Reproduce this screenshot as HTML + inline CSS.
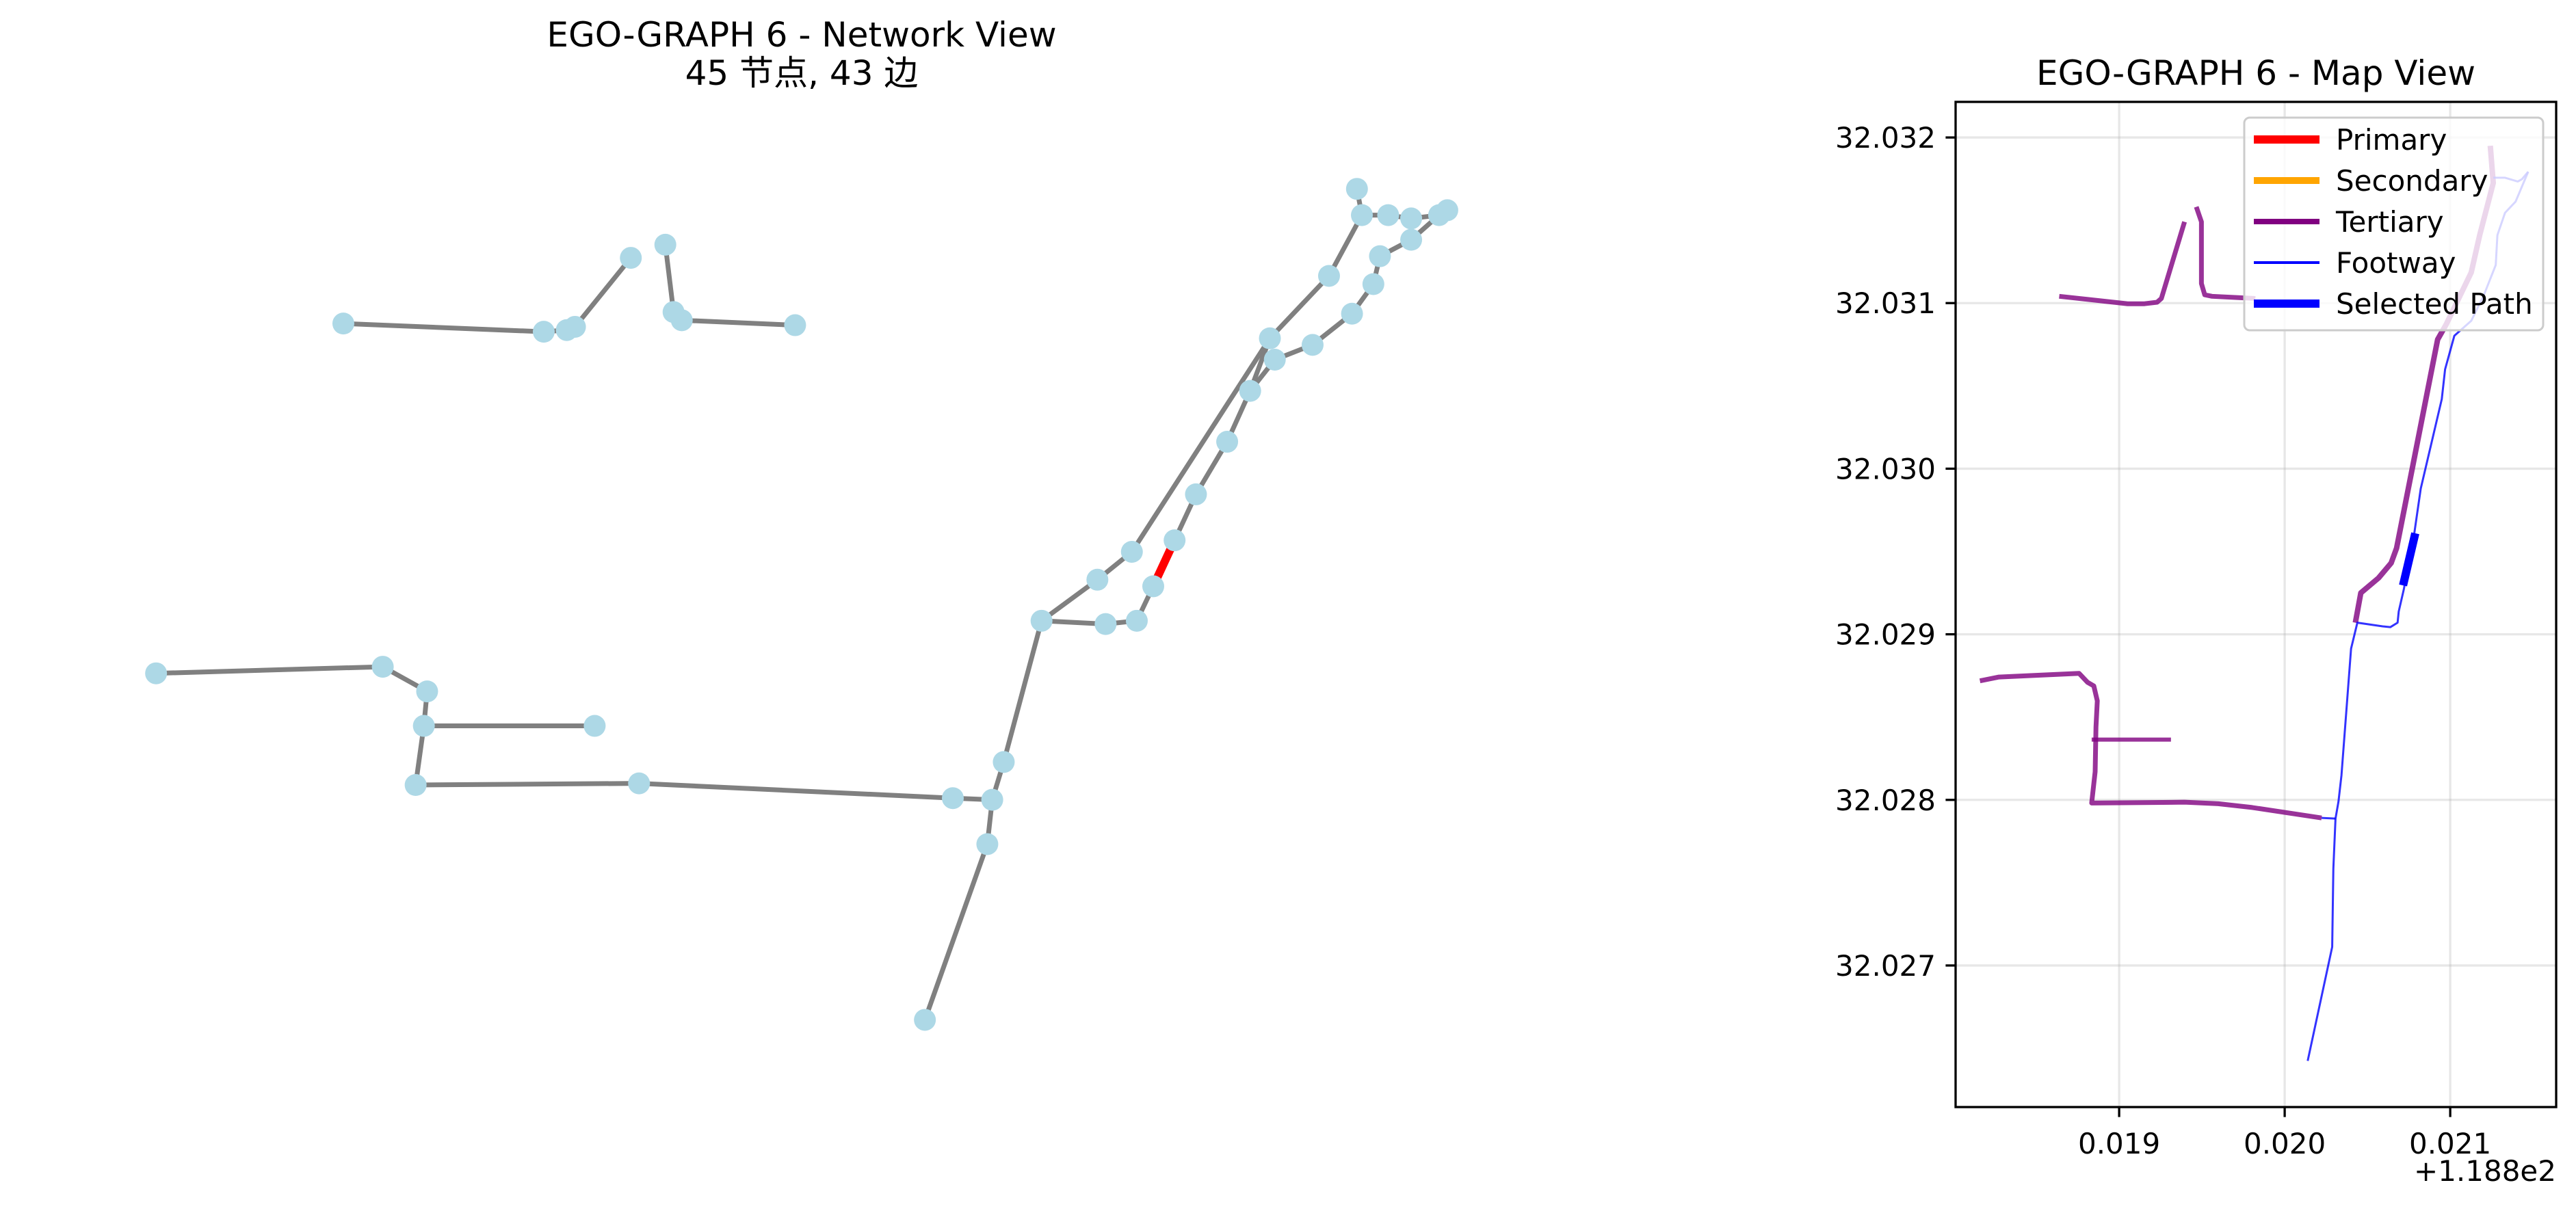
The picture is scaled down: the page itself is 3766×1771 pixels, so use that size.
<!DOCTYPE html>
<html><head><meta charset="utf-8">
<style>
html,body{margin:0;padding:0;background:#fff;}
svg{display:block;font-family:"DejaVu Sans","Liberation Sans","Noto Sans CJK SC",sans-serif;}
</style></head>
<body>
<svg id="fig" width="3766" height="1771" viewBox="0 0 3766 1771" xmlns="http://www.w3.org/2000/svg">
<rect width="3766" height="1771" fill="#fff"/>
<text x="1172" y="68" font-size="50" text-anchor="middle">EGO-GRAPH 6 - Network View</text>
<text x="1172" y="124" font-size="50" text-anchor="middle" font-family="'DejaVu Sans','Noto Sans CJK SC',sans-serif">45 节点, 43 边</text>
<g id="net"></g>
<text x="3298" y="124" font-size="50" text-anchor="middle">EGO-GRAPH 6 - Map View</text>
<g id="map"></g>
</svg>
<script>
const NS='http://www.w3.org/2000/svg';
function mk(tag,attrs,parent){const e=document.createElementNS(NS,tag);for(const k in attrs)e.setAttribute(k,attrs[k]);parent.appendChild(e);return e;}

// ---------- Network view data (layout coordinates) ----------
const nodeIds=['n1','n2','n3','n4','n5','n6','n7','n8','n9','m1','m2','m3','m4','m5','m6','m7','c1','c2','c3','c4','c5','c6','c7','c8','c9','c10','c11','c12','c13','c14','c15','c16','c17','c18','c19','c20','c21','c22','c23','c24','c25','c26','c27','c28','c29'];
const nodeX=[209,331,345,350,384,405,410,415,484,95,233,260,258,362,253,389,580,604,611,601,563,634,668,689,673,692,702,715,728,747,761,776,799,823,836,840,859,876,773,809,829,826,845,859,881];
const nodeY=[197,202,201,199,157,149,190,195,198,410,406,421,442,442,478,477,486,487,464,514,621,378,353,336,380,378,357,329,301,269,238,219,210,191,173,156,146,131,206,168,131,115,131,133,128];
const edgeFrom=['n1','n2','n3','n4','n6','n7','n8','m1','m2','m3','m4','m4','m6','m7','c1','c2','c2','c4','c3','c6','c7','c6','c9','c10','c11','c12','c13','c14','c15','c16','c17','c18','c19','c20','c21','c8','c15','c23','c24','c25','c25','c27','c28','c22'];
const edgeTo=  ['n2','n3','n4','n5','n7','n8','n9','m2','m3','m4','m5','m6','m7','c1','c2','c3','c4','c5','c6','c7','c8','c9','c10','c11','c12','c13','c14','c15','c16','c17','c18','c19','c20','c21','c22','c23','c23','c24','c25','c26','c27','c28','c22','c29'];
const selectedEdge=['c11','c12'];

const NSCALE=2.4017;
const nx=v=>v*NSCALE, ny=v=>v*NSCALE;
const net=document.getElementById('net');
function idx(id){return nodeIds.indexOf(id);}
for(let i=0;i<edgeFrom.length;i++){
  const a=idx(edgeFrom[i]),b=idx(edgeTo[i]);
  const sel=(edgeFrom[i]===selectedEdge[0]&&edgeTo[i]===selectedEdge[1]);
  const l=mk('line',{x1:nx(nodeX[a]),y1:ny(nodeY[a]),x2:nx(nodeX[b]),y2:ny(nodeY[b]),stroke:sel?'#ff0000':'#808080','stroke-width':sel?12:7},net);
  
  
}
for(let i=0;i<nodeIds.length;i++){
  const c=mk('circle',{cx:nx(nodeX[i]),cy:ny(nodeY[i]),r:16,fill:'#add8e6'},net);
  
  
}

// ---------- Map view data ----------
const xTicks=[118.819,118.820,118.821];
const xTickLabels=['0.019','0.020','0.021'];
const yTicks=[32.027,32.028,32.029,32.030,32.031,32.032];
const yTickLabels=['32.027','32.028','32.029','32.030','32.031','32.032'];
const offsetLabel='+1.188e2';

const tert1Lon=[118.818638,118.819051,118.819153,118.819229,118.819255,118.819395];
const tert1Lat=[32.031041,32.030996,32.030996,32.031005,32.031028,32.031491];
const tert2Lon=[118.819466,118.819497,118.819497,118.819517,118.819561,118.819823];
const tert2Lat=[32.031581,32.031491,32.031118,32.031050,32.031041,32.031028];
const tert3Lon=[118.820427,118.820460,118.820567,118.820643,118.820676,118.820924,118.820975,118.821127,118.821178,118.821260,118.821242];
const tert3Lat=[32.029070,32.029250,32.029340,32.029430,32.029520,32.030780,32.030870,32.031185,32.031410,32.031725,32.031950];
const tert4Lon=[118.818159,118.818274,118.818758,118.818809,118.818847,118.818868,118.818860,118.818855,118.818834,118.819395,118.819599,118.819803,118.820223];
const tert4Lat=[32.028719,32.028742,32.028764,32.028710,32.028688,32.028598,32.028440,32.028170,32.027981,32.027986,32.027977,32.027954,32.027891];
const tert5Lon=[118.818834,118.819313];
const tert5Lat=[32.028364,32.028364];
const foot1Lon=[118.820139,118.820287,118.820294,118.820307,118.820325,118.820343,118.820401,118.820439,118.820592,118.820638,118.820682,118.820689,118.820720,118.820783,118.820822,118.820949,118.820969,118.821025,118.821127,118.821204,118.821275,118.821285,118.821331,118.821395,118.821433,118.821471];
const foot1Lat=[32.026424,32.027112,32.027585,32.027887,32.027990,32.028148,32.028913,32.029070,32.029048,32.029043,32.029070,32.029138,32.029273,32.029610,32.029880,32.030420,32.030600,32.030803,32.030893,32.031050,32.031230,32.031410,32.031545,32.031613,32.031703,32.031793];
const foot2Lon=[118.821260,118.821331,118.821408,118.821433,118.821471];
const foot2Lat=[32.031757,32.031757,32.031734,32.031748,32.031793];
const foot3Lon=[118.820223,118.820307];
const foot3Lat=[32.027891,32.027887];
const selLon=[118.820715,118.820789];
const selLat=[32.029295,32.029610];

const legendLabels=['Primary','Secondary','Tertiary','Footway','Selected Path'];
const legendColors=['#ff0000','#ffa500','#800080','#0000ff','#0000ff'];
const legendWidths=[12,10,8,4,12];

// axes frame
const AX0=2859,AX1=3737,AY0=149,AY1=1619;
const XMIN=118.818012,XMAX=118.821640,YMIN=32.026145,YMAX=32.032215;
const mx=v=>AX0+(v-XMIN)/(XMAX-XMIN)*(AX1-AX0);
const my=v=>AY1-(v-YMIN)/(YMAX-YMIN)*(AY1-AY0);
const map=document.getElementById('map');

xTicks.forEach((t,i)=>{
  const g=mk('line',{x1:mx(t),y1:AY0,x2:mx(t),y2:AY1,stroke:'#b0b0b0','stroke-opacity':0.3,'stroke-width':3.3},map);
  
  
  const tk=mk('line',{x1:mx(t),y1:AY1,x2:mx(t),y2:AY1+14.6,stroke:'#000','stroke-width':3.3},map);
  
  
  const tx=mk('text',{x:mx(t),y:AY1+68,'font-size':42,'text-anchor':'middle'},map);
  tx.textContent=xTickLabels[i];
  
  
});
yTicks.forEach((t,i)=>{
  const g=mk('line',{x1:AX0,y1:my(t),x2:AX1,y2:my(t),stroke:'#b0b0b0','stroke-opacity':0.3,'stroke-width':3.3},map);
  
  
  const tk=mk('line',{x1:AX0-14.6,y1:my(t),x2:AX0,y2:my(t),stroke:'#000','stroke-width':3.3},map);
  
  
  const tx=mk('text',{x:AX0-29,y:my(t)+15,'font-size':42,'text-anchor':'end'},map);
  tx.textContent=yTickLabels[i];
  
  
});
const off=mk('text',{x:AX1,y:1727,'font-size':42,'text-anchor':'end'},map);
off.textContent=offsetLabel;



function poly(lons,lats,color,w,op,name){
  const pts=lons.map((v,i)=>mx(v)+','+my(lats[i])).join(' ');
  const p=mk('polyline',{points:pts,fill:'none',stroke:color,'stroke-width':w,'stroke-opacity':op,'stroke-linejoin':'round'},map);
  
  
}
poly(tert1Lon,tert1Lat,'#800080',7,0.8,'tertiary-road');
poly(tert2Lon,tert2Lat,'#800080',7,0.8,'tertiary-road');
poly(tert3Lon,tert3Lat,'#800080',8,0.8,'tertiary-road');
poly(tert4Lon,tert4Lat,'#800080',7,0.8,'tertiary-road');
poly(tert5Lon,tert5Lat,'#800080',6,0.8,'tertiary-road');
poly(foot1Lon,foot1Lat,'#0000ff',3,0.8,'footway');
poly(foot2Lon,foot2Lat,'#0000ff',3,0.8,'footway');
poly(foot3Lon,foot3Lat,'#0000ff',3,0.8,'footway');
poly(selLon,selLat,'#0000ff',12,1,'selected-path');

const fr=mk('rect',{x:AX0,y:AY0,width:AX1-AX0,height:AY1-AY0,fill:'none',stroke:'#000','stroke-width':3.3},map);



const lg=mk('g',{},map);


const lb=mk('rect',{x:3281,y:172,width:437,height:311,rx:8,fill:'#fff','fill-opacity':0.8,stroke:'#cccccc','stroke-width':3},lg);


legendLabels.forEach((lab,i)=>{
  const y=204+i*60;
  const l=mk('line',{x1:3295,y1:y,x2:3391,y2:y,stroke:legendColors[i],'stroke-width':legendWidths[i]},lg);
  
  
  const t=mk('text',{x:3415,y:y+15,'font-size':42},lg);
  t.textContent=lab;
  
  
});
</script>
</body></html>
